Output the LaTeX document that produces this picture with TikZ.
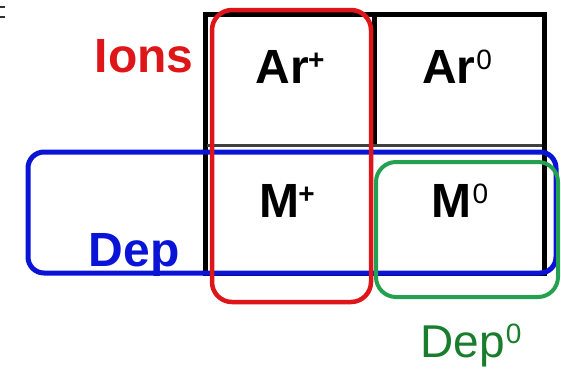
\documentclass[tikz,border=0pt]{standalone}
\usepackage{fontspec}
\setmainfont{Liberation Sans}
\definecolor{ionred}{RGB}{222,22,26}
\definecolor{depblue}{RGB}{10,20,215}
\definecolor{depgreen}{RGB}{35,160,80}
\definecolor{deptext}{RGB}{25,125,45}
\tikzset{
  grid line/.style={draw=black, line width=5pt},
  mid line/.style={draw=black!75, line width=3pt},
  ion box/.style={draw=ionred, line width=4.5pt, rounded corners=20pt},
  dep box/.style={draw=depblue, line width=5pt, rounded corners=16pt},
  neutral box/.style={draw=depgreen, line width=4pt, rounded corners=20pt},
  species/.style={anchor=base, inner sep=0pt, font=\fontsize{48}{50}\selectfont\bfseries},
  tag/.style={anchor=base, inner sep=0pt},
}
% charge marks: a bold plus, a light zero, set high beside the symbol
\newcommand{\chgplus}{\raisebox{14pt}{\fontsize{28}{28}\selectfont\bfseries +}}
\newcommand{\chgzero}{\raisebox{14pt}{\fontsize{28}{28}\selectfont\mdseries 0}}
\begin{document}
\begin{tikzpicture}[x=1pt, y=-1pt]
  \useasboundingbox (0,0) rectangle (561,368);
  % stray marks in the upper left corner
  \draw[black!80, line width=1.5pt] (0,7) -- (5,7) (0,17) -- (5,17);
  % the 2x2 table
  \draw[grid line] (205,14) rectangle (544,273);
  \draw[grid line] (374,14) -- (374,145);
  \draw[mid line] (207,145) -- (542,145);
  % cell entries
  \node[species] (arp) at (290,83) {Ar\kern-1pt\chgplus};
  \node[species] (arz) at (457,83) {Ar\kern1pt\chgzero};
  \node[species] (mp) at (287,217) {M\kern-1pt\chgplus};
  \node[species] (mz) at (460,217) {M\kern1pt\chgzero};
  % groupings
  \draw[dep box] (28,152) rectangle (556,273);
  \draw[neutral box] (376,162) rectangle (558,297);
  \draw[ion box] (212,10) rectangle (371,302);
  % group labels
  \node[tag, text=ionred, font=\fontsize{48}{50}\selectfont\bfseries] (ions) at (144,72) {Ions};
  \node[tag, text=depblue, font=\fontsize{48}{50}\selectfont\bfseries] (dep) at (134,266) {Dep};
  \node[tag, text=deptext, font=\fontsize{46}{48}\selectfont] (depz) at (471,357) {Dep\kern1pt\chgzero};
\end{tikzpicture}
\end{document}
